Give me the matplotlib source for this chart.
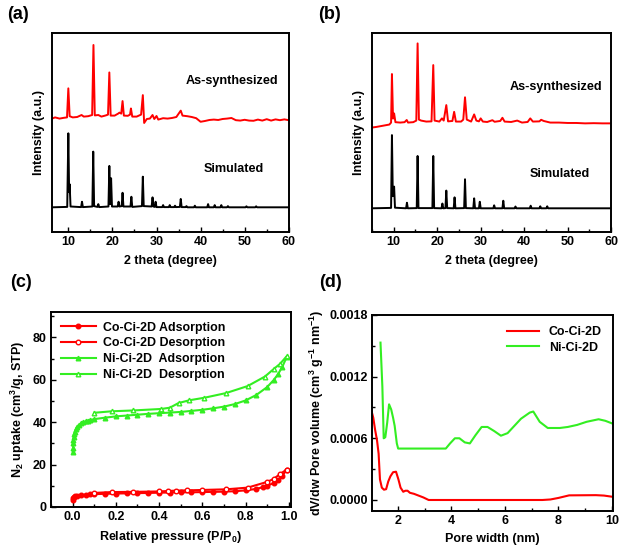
import numpy as np
import matplotlib
matplotlib.use("Agg")
import matplotlib.pyplot as plt
from matplotlib.ticker import MultipleLocator, FormatStrFormatter

# ---------- (a) XRD, Co-Ci-2D (intensity in arbitrary units 0-100) ----------
a_exp_x = [6.3, 7.0, 8.0, 9.0, 9.7, 10.0, 10.3, 11.0, 12.0, 13.0, 13.5, 14.5, 15.4, 15.7, 16.0,
           16.8, 17.5, 18.5, 19.0, 19.3, 19.6, 20.5, 21.3, 21.6, 22.0, 22.3, 22.6, 23.5, 24.0,
           24.2, 24.5, 25.5, 26.5, 26.9, 27.2, 27.8, 28.5, 29.1, 29.5, 30.0, 30.4, 31.5, 32.5,
           33.5, 34.5, 35.5, 35.9, 37.0, 38.0, 39.0, 40.0, 41.0, 42.0, 43.0, 44.0, 45.0, 46.0,
           47.0, 48.0, 49.0, 50.0, 51.0, 52.0, 53.0, 54.0, 55.0, 56.0, 57.0, 58.0, 59.0, 60.0]
a_exp_y = [57.0, 57.6, 57.0, 57.4, 57.6, 72.2, 58.2, 57.6, 57.8, 58.8, 58.0, 58.2, 58.8, 94.0, 58.6,
           58.8, 58.0, 58.6, 59.0, 80.2, 58.5, 58.5, 59.5, 60.0, 59.5, 65.8, 58.5, 58.4, 59.0,
           62.1, 58.0, 58.0, 59.0, 68.8, 54.8, 56.8, 57.0, 58.8, 56.8, 58.3, 56.5, 57.2, 57.0,
           57.3, 57.8, 61.0, 58.5, 58.2, 57.8, 57.2, 55.4, 55.8, 56.3, 56.5, 56.3, 56.8, 57.0,
           57.3, 56.2, 56.0, 56.4, 56.0, 55.9, 56.5, 56.0, 56.7, 56.0, 56.6, 56.2, 56.6, 56.2]
a_sim_x = [6.3, 9.75, 10.0, 10.18, 10.3, 10.5, 12.9, 13.1, 13.3, 15.45, 15.65, 15.85, 16.6, 16.8,
           17.0, 19.1, 19.3, 19.5, 19.7, 19.9, 21.2, 21.4, 21.6, 22.1, 22.3, 22.5, 24.1, 24.3,
           24.5, 26.7, 26.9, 27.1, 28.9, 29.1, 29.3, 29.6, 29.8, 30.0, 31.3, 31.5, 31.7, 32.8,
           33.0, 33.2, 34.0, 34.2, 34.4, 35.3, 35.5, 35.7, 36.6, 36.8, 37.0, 38.5, 38.7, 38.9,
           41.5, 41.7, 41.9, 43.0, 43.2, 43.4, 44.5, 44.7, 44.9, 46.0, 46.2, 46.4, 50.2, 50.4,
           50.6, 52.4, 52.6, 52.8, 60.0]
a_sim_y = [12.4, 12.6, 49.6, 20.0, 24.0, 12.8, 12.5, 15.2, 12.5, 12.8, 40.4, 13.0, 12.6, 14.0,
           12.5, 12.8, 33.2, 14.0, 27.0, 12.8, 12.8, 15.2, 12.8, 13.0, 19.7, 12.8, 12.8, 17.7,
           12.6, 13.0, 27.8, 13.0, 12.8, 17.4, 12.8, 12.6, 15.2, 12.5, 12.5, 13.5, 12.5, 12.5,
           13.5, 12.5, 12.5, 13.2, 12.5, 12.6, 16.6, 12.5, 12.5, 13.0, 12.4, 12.4, 13.2, 12.4,
           12.4, 14.0, 12.4, 12.4, 13.5, 12.4, 12.4, 13.5, 12.4, 12.4, 13.0, 12.4, 12.4, 12.9,
           12.4, 12.4, 12.9, 12.4, 12.4]

# ---------- (b) XRD, Ni-Ci-2D ----------
b_exp_x = [5.0, 6.0, 7.0, 8.0, 9.0, 9.4, 9.6, 9.85, 10.1, 10.4, 11.5, 12.5, 13.0, 13.3, 14.5,
           15.2, 15.5, 15.8, 16.3, 17.5, 18.7, 19.1, 19.4, 20.5, 21.1, 21.5, 22.1, 22.5, 23.5,
           23.9, 24.3, 25.5, 26.0, 26.4, 26.8, 27.8, 28.5, 29.0, 29.6, 30.0, 30.5, 31.5, 32.7,
           33.2, 34.5, 35.0, 35.5, 37.0, 38.4, 39.5, 40.8, 41.4, 42.0, 43.5, 43.9, 44.5, 46.0,
           48.0, 50.0, 52.0, 54.0, 56.0, 58.0, 60.0]
b_exp_y = [52.5, 52.8, 53.2, 53.6, 54.0, 55.0, 79.4, 57.0, 59.6, 55.2, 55.0, 55.2, 56.3, 55.0, 55.2,
           56.0, 94.8, 56.5, 56.0, 55.5, 55.6, 83.9, 56.0, 55.5, 57.1, 56.0, 63.8, 55.6, 55.8,
           60.4, 55.5, 55.5, 56.5, 67.7, 56.5, 55.5, 59.1, 56.0, 55.6, 57.1, 55.5, 55.3, 56.2,
           55.4, 55.8, 57.4, 55.5, 55.3, 56.0, 55.0, 55.3, 57.1, 55.5, 55.6, 56.4, 55.8, 55.0,
           55.0, 54.8, 54.8, 54.6, 54.7, 54.6, 54.6]
b_sim_x = [5.0, 9.4, 9.6, 9.8, 10.1, 10.3, 12.85, 13.05, 13.25, 15.3, 15.5, 15.7, 18.9, 19.1, 19.3,
           21.0, 21.2, 21.4, 21.9, 22.1, 22.3, 23.8, 24.0, 24.2, 26.2, 26.4, 26.6, 28.3, 28.5,
           28.7, 29.6, 29.8, 30.0, 32.9, 33.1, 33.3, 35.0, 35.2, 35.4, 37.8, 38.0, 38.2, 41.3,
           41.5, 41.7, 43.5, 43.7, 43.9, 45.1, 45.3, 45.5, 60.0]
b_sim_y = [11.9, 12.1, 48.7, 18.0, 22.8, 12.2, 11.9, 14.7, 11.9, 12.0, 38.2, 12.0, 12.0, 38.2, 12.0,
           11.9, 14.3, 11.9, 12.0, 20.8, 12.0, 11.9, 17.4, 11.9, 12.0, 26.5, 12.0, 11.9, 16.9,
           11.9, 11.9, 15.2, 11.9, 11.9, 13.4, 11.9, 11.9, 15.7, 11.9, 11.9, 12.8, 11.9, 11.9,
           13.2, 11.9, 11.9, 12.9, 11.9, 11.9, 12.9, 11.9, 11.9]

# ---------- (c) N2 isotherms ----------
co_ads_p = [0.001, 0.003, 0.006, 0.01, 0.02, 0.04, 0.06, 0.08, 0.1, 0.15, 0.2, 0.25, 0.3, 0.35,
            0.4, 0.45, 0.5, 0.55, 0.6, 0.65, 0.7, 0.75, 0.8, 0.85, 0.88, 0.9, 0.93, 0.95, 0.97, 0.99]
co_ads_v = [3.3, 4.2, 4.7, 5.0, 5.3, 5.6, 5.8, 5.9, 6.0, 6.2, 6.3, 6.4, 6.5, 6.6,
            6.7, 6.8, 6.9, 6.9, 7.0, 7.1, 7.2, 7.4, 7.8, 8.5, 9.3, 10.0, 11.2, 12.8, 14.5, 17.5]
co_des_p = [0.99, 0.96, 0.93, 0.90, 0.81, 0.71, 0.60, 0.53, 0.48, 0.44, 0.40, 0.28, 0.18, 0.10]
co_des_v = [17.6, 15.5, 13.2, 11.8, 9.1, 8.3, 8.0, 7.8, 7.7, 7.5, 7.3, 7.1, 7.0, 6.6]
ni_ads_p = [0.001, 0.002, 0.003, 0.004, 0.005, 0.007, 0.01, 0.015, 0.02, 0.03, 0.04, 0.05, 0.06,
            0.07, 0.08, 0.1, 0.15, 0.2, 0.25, 0.3, 0.35, 0.4, 0.45, 0.5, 0.55, 0.6, 0.65, 0.7,
            0.75, 0.8, 0.85, 0.9, 0.93, 0.95, 0.97, 0.99]
ni_ads_v = [25.8, 28.0, 30.0, 31.5, 33.0, 34.5, 35.5, 36.8, 37.8, 38.8, 39.5, 40.0, 40.4,
            40.7, 41.0, 41.4, 42.1, 42.7, 43.1, 43.5, 43.9, 44.2, 44.5, 44.8, 45.3, 45.8, 46.5, 47.3,
            48.5, 50.2, 52.8, 56.5, 59.8, 62.5, 66.0, 70.5]
ni_des_p = [0.99, 0.96, 0.93, 0.89, 0.81, 0.71, 0.61, 0.54, 0.49, 0.45, 0.41, 0.28, 0.18, 0.10]
ni_des_v = [71.0, 67.5, 65.0, 61.5, 57.0, 53.7, 51.5, 50.3, 49.0, 46.8, 46.2, 45.5, 45.1, 44.4]

# ---------- (d) pore size distribution ----------
co_w = [1.02, 1.08, 1.15, 1.22, 1.28, 1.33, 1.40, 1.48, 1.56, 1.64, 1.72, 1.82, 1.93, 2.02, 2.10,
        2.20, 2.28, 2.36, 2.45, 2.60, 2.80, 2.95, 3.15, 7.40, 7.70, 8.00, 8.40, 9.40, 9.70, 10.0]
co_dv = [8.6e-4, 8.0e-4, 6.8e-4, 5.8e-4, 4.5e-4, 2.0e-4, 1.2e-4, 1.0e-4, 1.05e-4, 1.8e-4, 2.3e-4,
         2.7e-4, 2.75e-4, 2.0e-4, 1.2e-4, 0.8e-4, 0.9e-4, 0.9e-4, 0.7e-4, 0.6e-4, 0.4e-4, 0.25e-4,
         0.0, 0.0, 0.05e-4, 0.2e-4, 0.45e-4, 0.47e-4, 0.43e-4, 0.32e-4]
ni_w = [1.35, 1.42, 1.47, 1.53, 1.60, 1.67, 1.75, 1.82, 1.88, 1.96, 2.01, 3.79, 3.95, 4.13, 4.30,
        4.50, 4.69, 4.90, 5.13, 5.35, 5.60, 5.85, 6.10, 6.35, 6.60, 6.93, 7.06, 7.30, 7.60, 8.05,
        8.35, 8.70, 9.05, 9.50, 9.75, 10.0]
ni_dv = [15.3e-4, 11.0e-4, 6.0e-4, 6.1e-4, 7.5e-4, 9.3e-4, 8.8e-4, 8.0e-4, 7.2e-4, 5.5e-4, 5.0e-4,
         5.0e-4, 5.5e-4, 6.0e-4, 6.0e-4, 5.6e-4, 5.5e-4, 6.3e-4, 7.1e-4, 7.1e-4, 6.7e-4, 6.25e-4,
         6.5e-4, 7.2e-4, 7.9e-4, 8.5e-4, 8.6e-4, 7.6e-4, 7.0e-4, 7.0e-4, 7.1e-4, 7.3e-4, 7.6e-4,
         7.85e-4, 7.7e-4, 7.45e-4]

RED = "#ff0000"
GREEN = "#33ee22"

plt.rcParams["font.family"] = ["Liberation Sans", "DejaVu Sans"]
plt.rcParams["font.size"] = 9
plt.rcParams["font.weight"] = "bold"
plt.rcParams["axes.labelweight"] = "bold"
plt.rcParams["axes.linewidth"] = 1.4
plt.rcParams["mathtext.fontset"] = "custom"
plt.rcParams["mathtext.rm"] = "Liberation Sans:bold"
plt.rcParams["mathtext.it"] = "Liberation Sans:bold"
plt.rcParams["mathtext.bf"] = "Liberation Sans:bold"
plt.rcParams["mathtext.default"] = "regular"

fig = plt.figure(figsize=(6.23, 5.51), dpi=100)
ax_a = fig.add_axes([0.0835, 0.579, 0.380, 0.361])
ax_b = fig.add_axes([0.597, 0.579, 0.384, 0.361])
ax_c = fig.add_axes([0.0819, 0.080, 0.385, 0.354])
ax_d = fig.add_axes([0.597, 0.0726, 0.387, 0.356])


def style_ticks(ax):
    ax.tick_params(which="both", direction="in", width=1.0, pad=3)
    ax.tick_params(which="major", length=3.5)
    ax.tick_params(which="minor", length=2)


# XRD panels
for ax, ex, ey, sx, sy, xlo, txt in [
        (ax_a, a_exp_x, a_exp_y, a_sim_x, a_sim_y, 6.3, [(36.7, 75.9), (40.7, 31.7)]),
        (ax_b, b_exp_x, b_exp_y, b_sim_x, b_sim_y, 5.0, [(36.6, 72.9), (41.2, 29.1)])]:
    ax.plot(ex, ey, color=RED, lw=1.4)
    ax.plot(sx, sy, color="black", lw=1.4)
    ax.set_xlim(xlo, 60)
    ax.set_ylim(0, 100)
    ax.set_yticks([])
    ax.xaxis.set_major_locator(MultipleLocator(10))
    ax.xaxis.set_minor_locator(MultipleLocator(5))
    style_ticks(ax)
    ax.set_xlabel("2 theta (degree)", labelpad=5)
    ax.set_ylabel("Intensity (a.u.)", labelpad=5)
    ax.text(txt[0][0], txt[0][1], "As-synthesized", va="center", ha="left", fontsize=9.1)
    ax.text(txt[1][0], txt[1][1], "Simulated", va="center", ha="left", fontsize=9.1)

# (c)
ms = 3.3
ax_c.plot(co_ads_p, co_ads_v, color=RED, lw=1.5, marker="o", ms=ms,
          label="Co-Ci-2D Adsorption")
ax_c.plot(co_des_p, co_des_v, color=RED, lw=1.5, marker="o", ms=ms, mfc="white",
          label="Co-Ci-2D Desorption")
ax_c.plot(ni_ads_p, ni_ads_v, color=GREEN, lw=1.5, marker="^", ms=ms,
          label="Ni-Ci-2D  Adsorption")
ax_c.plot(ni_des_p, ni_des_v, color=GREEN, lw=1.5, marker="^", ms=ms, mfc="white",
          label="Ni-Ci-2D  Desorption")
ax_c.set_xlim(-0.1, 1.01)
ax_c.set_ylim(0, 92)
ax_c.xaxis.set_major_locator(MultipleLocator(0.2))
ax_c.xaxis.set_minor_locator(MultipleLocator(0.1))
ax_c.xaxis.set_major_formatter(FormatStrFormatter("%.1f"))
ax_c.yaxis.set_major_locator(MultipleLocator(20))
ax_c.yaxis.set_minor_locator(MultipleLocator(10))
style_ticks(ax_c)
ax_c.set_xlabel("Relative pressure (P/P$_0$)", labelpad=4)
ax_c.set_ylabel("N$_2$ uptake (cm$^3$/g, STP)", labelpad=4)
ax_c.legend(loc="upper left", frameon=False, fontsize=8.9, handlelength=2.8,
            labelspacing=0.3, borderaxespad=0.4, handletextpad=0.6,
            bbox_to_anchor=(0.0, 1.0))

# (d)
ax_d.plot(co_w, co_dv, color=RED, lw=1.5, label="Co-Ci-2D")
ax_d.plot(ni_w, ni_dv, color=GREEN, lw=1.5, label="Ni-Ci-2D")
ax_d.set_xlim(1.03, 10.04)
ax_d.set_ylim(-0.000107, 0.0018)
ax_d.xaxis.set_major_locator(MultipleLocator(2))
ax_d.xaxis.set_minor_locator(MultipleLocator(1))
ax_d.yaxis.set_major_locator(MultipleLocator(0.0006))
ax_d.yaxis.set_minor_locator(MultipleLocator(0.0003))
ax_d.yaxis.set_major_formatter(FormatStrFormatter("%.4f"))
style_ticks(ax_d)
ax_d.set_xlabel("Pore width (nm)", labelpad=4)
ax_d.set_ylabel("dV/dw Pore volume (cm$^3$ g$^{-1}$ nm$^{-1}$)", labelpad=2)
ax_d.legend(loc="upper right", frameon=False, fontsize=8.9, handlelength=2.6,
            labelspacing=0.3, handletextpad=0.8)

# panel labels
for x, y, s in [(0.011, 0.99, "(a)"), (0.510, 0.99, "(b)"),
                (0.016, 0.503, "(c)"), (0.513, 0.503, "(d)")]:
    fig.text(x, y, s, fontsize=13, fontweight="bold", va="top", ha="left")

fig.savefig("out.png", dpi=100)
